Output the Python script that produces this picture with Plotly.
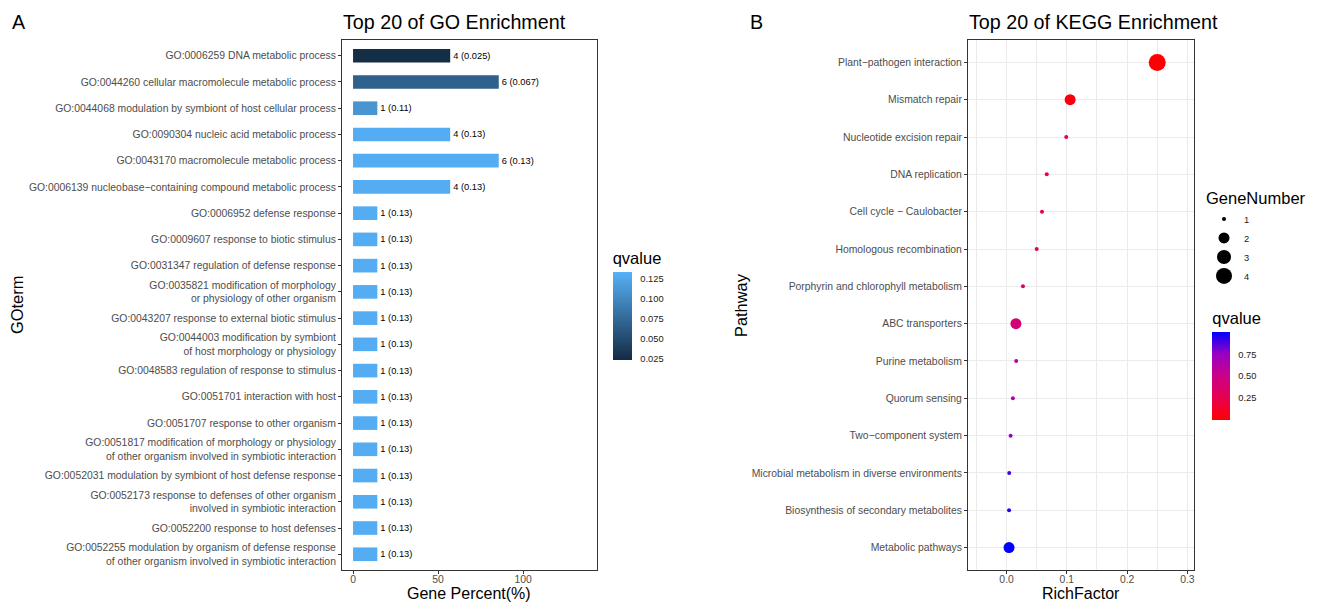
import plotly.graph_objects as go

# ---- GO enrichment (top 20) ----
go_terms = [
    "GO:0006259 DNA metabolic process",
    "GO:0044260 cellular macromolecule metabolic process",
    "GO:0044068 modulation by symbiont of host cellular process",
    "GO:0090304 nucleic acid metabolic process",
    "GO:0043170 macromolecule metabolic process",
    "GO:0006139 nucleobase\u2212containing compound metabolic process",
    "GO:0006952 defense response",
    "GO:0009607 response to biotic stimulus",
    "GO:0031347 regulation of defense response",
    "GO:0035821 modification of morphology<br>or physiology of other organism",
    "GO:0043207 response to external biotic stimulus",
    "GO:0044003 modification by symbiont<br>of host morphology or physiology",
    "GO:0048583 regulation of response to stimulus",
    "GO:0051701 interaction with host",
    "GO:0051707 response to other organism",
    "GO:0051817 modification of morphology or physiology<br>of other organism involved in symbiotic interaction",
    "GO:0052031 modulation by symbiont of host defense response",
    "GO:0052173 response to defenses of other organism<br>involved in symbiotic interaction",
    "GO:0052200 response to host defenses",
    "GO:0052255 modulation by organism of defense response<br>of other organism involved in symbiotic interaction",
]
go_counts = [4, 6, 1, 4, 6, 4, 1, 1, 1, 1, 1, 1, 1, 1, 1, 1, 1, 1, 1, 1]
go_qvalues = [0.025, 0.067, 0.11, 0.13, 0.13, 0.13, 0.13, 0.13, 0.13, 0.13,
              0.13, 0.13, 0.13, 0.13, 0.13, 0.13, 0.13, 0.13, 0.13, 0.13]
go_total_genes = 7

# ---- KEGG enrichment ----
kegg_pathways = [
    "Plant\u2212pathogen interaction",
    "Mismatch repair",
    "Nucleotide excision repair",
    "DNA replication",
    "Cell cycle \u2212 Caulobacter",
    "Homologous recombination",
    "Porphyrin and chlorophyll metabolism",
    "ABC transporters",
    "Purine metabolism",
    "Quorum sensing",
    "Two\u2212component system",
    "Microbial metabolism in diverse environments",
    "Biosynthesis of secondary metabolites",
    "Metabolic pathways",
]
kegg_richfactor = [0.25, 0.1055, 0.099, 0.0667, 0.0588, 0.05, 0.0272, 0.0155,
                   0.016, 0.0105, 0.0067, 0.0044, 0.0041, 0.0041]
kegg_genes = [4, 2, 1, 1, 1, 1, 1, 2, 1, 1, 1, 1, 1, 2]
kegg_qvalues = [0.0, 0.03, 0.22, 0.27, 0.3, 0.32, 0.36, 0.42, 0.55, 0.62,
                0.75, 0.9, 0.95, 1.0]
gene_number_breaks = [1, 2, 3, 4]

# style
FONT = "Liberation Sans, Arial, sans-serif"
TICK_GREY = "#4D4D4D"
BORDER = "#333333"
GRID = "#EBEBEB"
W, H = 1323, 602
size_px = {1: 4, 2: 11, 3: 14, 4: 17}
red_blue = [[0.0, "#FF0000"], [0.25, "#E8004F"], [0.5, "#CA0088"],
            [0.75, "#9A00C3"], [1.0, "#0000FF"]]
ggplot_blues = [[0.0, "#132B43"], [1.0, "#56B1F7"]]


def px_x(v):
    return v / W


def px_y(v):
    return 1 - v / H


go_percent = [c / go_total_genes * 100 for c in go_counts]
go_labels = [f"{c} ({q:g})" for c, q in zip(go_counts, go_qvalues)]

fig = go.Figure()

fig.add_trace(go.Bar(
    x=go_percent, y=go_terms, orientation="h",
    width=0.52,
    marker=dict(color=go_qvalues, coloraxis="coloraxis", line=dict(width=0)),
    text=go_labels, textposition="outside", cliponaxis=False,
    textfont=dict(family=FONT, size=9.3, color="black"),
    showlegend=False, xaxis="x", yaxis="y",
))

fig.add_trace(go.Scatter(
    x=kegg_richfactor, y=kegg_pathways, mode="markers",
    marker=dict(size=[size_px[g] for g in kegg_genes],
                color=kegg_qvalues, coloraxis="coloraxis2",
                line=dict(width=0), opacity=1),
    showlegend=False, xaxis="x2", yaxis="y2",
))

# gene-number size key
for g in gene_number_breaks:
    fig.add_trace(go.Scatter(
        x=[None], y=[None], mode="markers", name=str(g),
        marker=dict(size=size_px[g], color="black"),
        xaxis="x2", yaxis="y2", showlegend=True,
    ))

y_dom = [px_y(570), px_y(40)]
axis_common = dict(
    showline=True, mirror=True, linecolor=BORDER, linewidth=1,
    ticks="outside", ticklen=3, tickcolor=BORDER, tickwidth=1,
    tickfont=dict(family=FONT, size=10.4, color=TICK_GREY),
    zeroline=False,
)


def qvalue_bar(x_left, bar_bottom, tickvals, ticktext, thickness):
    # colorbar length in pixels includes the title block above the bar
    total_len = 111
    return dict(
        title=dict(text="qvalue", side="top",
                   font=dict(family=FONT, size=16.5, color="black")),
        x=px_x(x_left), xanchor="left",
        y=px_y(bar_bottom - total_len / 2), yanchor="middle",
        thickness=thickness, thicknessmode="pixels",
        len=total_len, lenmode="pixels",
        xpad=0, ypad=0, outlinewidth=0,
        tickvals=tickvals, ticktext=ticktext,
        ticks="outside", ticklen=7, tickcolor="rgba(0,0,0,0)",
        tickfont=dict(family=FONT, size=9.3, color="#1A1A1A"),
    )


fig.update_layout(
    width=W, height=H, autosize=False,
    margin=dict(l=0, r=0, t=0, b=0),
    paper_bgcolor="white", plot_bgcolor="white",
    font=dict(family=FONT, color="black"),
    xaxis=dict(domain=[px_x(342), px_x(597)], range=[-6.5, 143.5],
               tickvals=[0, 50, 100], showgrid=False, anchor="y",
               ticklabelstandoff=-3, **axis_common),
    yaxis=dict(domain=y_dom, range=[19.6, -0.6], type="category",
               categoryorder="array", categoryarray=go_terms,
               showgrid=False, anchor="x", **axis_common),
    xaxis2=dict(domain=[px_x(968), px_x(1194)], range=[-0.064, 0.311],
                tickvals=[0.0, 0.1, 0.2, 0.3], tickformat=".1f",
                showgrid=True, gridcolor=GRID, gridwidth=1,
                minor=dict(showgrid=True, gridcolor=GRID, gridwidth=0.6,
                           tickvals=[-0.05, 0.05, 0.15, 0.25]),
                anchor="y2", ticklabelstandoff=-3, **axis_common),
    yaxis2=dict(domain=y_dom, range=[13.6, -0.6], type="category",
                categoryorder="array", categoryarray=kegg_pathways,
                showgrid=True, gridcolor=GRID, gridwidth=1,
                anchor="x2", **axis_common),
    coloraxis=dict(
        colorscale=ggplot_blues, cmin=0.0229, cmax=0.1333,
        colorbar=qvalue_bar(612.7, 360, [0.025, 0.05, 0.075, 0.1, 0.125],
                            ["0.025", "0.050", "0.075", "0.100", "0.125"], 19),
    ),
    coloraxis2=dict(
        colorscale=red_blue, cmin=-0.01, cmax=1.007,
        colorbar=qvalue_bar(1212.3, 420, [0.25, 0.5, 0.75],
                            ["0.25", "0.50", "0.75"], 17.5),
    ),
    legend=dict(
        title=dict(text="GeneNumber", font=dict(family=FONT, size=16.5, color="black")),
        x=px_x(1204), xanchor="left", y=px_y(183), yanchor="top",
        font=dict(family=FONT, size=9.3, color="#1A1A1A"),
        itemsizing="trace", bgcolor="rgba(0,0,0,0)", tracegroupgap=0,
    ),
)

annotations = [
    dict(text="A", x=px_x(10), y=px_y(22), xanchor="left", yanchor="middle",
         font=dict(size=19.7)),
    dict(text="B", x=px_x(748), y=px_y(22), xanchor="left", yanchor="middle",
         font=dict(size=19.7)),
    dict(text="Top 20 of GO Enrichment", x=px_x(341), y=px_y(22),
         xanchor="left", yanchor="middle", font=dict(size=19.7)),
    dict(text="Top 20 of KEGG Enrichment", x=px_x(967), y=px_y(22),
         xanchor="left", yanchor="middle", font=dict(size=19.7)),
    dict(text="Gene Percent(%)", x=px_x(469), y=px_y(593.5),
         xanchor="center", yanchor="middle", font=dict(size=16)),
    dict(text="RichFactor", x=px_x(1081), y=px_y(593.5),
         xanchor="center", yanchor="middle", font=dict(size=16)),
    dict(text="GOterm", x=px_x(17), y=px_y(305), textangle=-90,
         xanchor="center", yanchor="middle", font=dict(size=16.4)),
    dict(text="Pathway", x=px_x(741), y=px_y(305), textangle=-90,
         xanchor="center", yanchor="middle", font=dict(size=16.4)),
]
for a in annotations:
    a.update(xref="paper", yref="paper", showarrow=False)
    a["font"].update(family=FONT, color="black")
fig.update_layout(annotations=annotations)

fig.write_html("out.html")
